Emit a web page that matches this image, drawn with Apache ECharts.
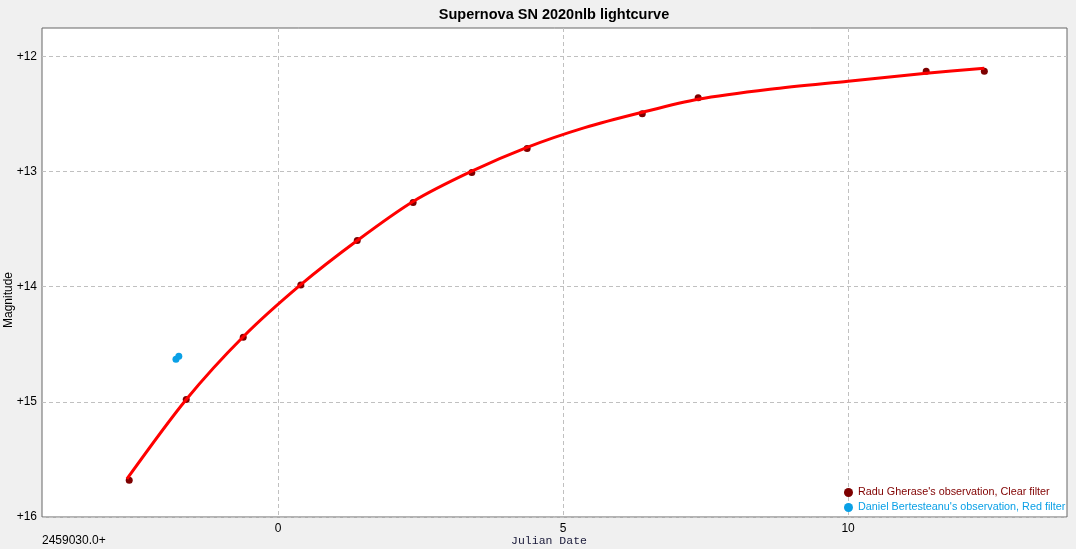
<!DOCTYPE html>
<html>
<head>
<meta charset="utf-8">
<script src="https://cdn.jsdelivr.net/npm/echarts@6/dist/echarts.min.js"></script>
<style>
html,body{margin:0;padding:0;background:#f0f0f0;}
#chart{width:1076px;height:549px;}
</style>
</head>
<body>
<div id="chart"></div>
<script>
// ---- data ----
const titleText = 'Supernova SN 2020nlb lightcurve';
const clearName = "Radu Gherase's observation, Clear filter";
const redName = "Daniel Bertesteanu's observation, Red filter";
// Clear filter observations (days after JD 2459030.0, magnitude)
const clearX = [-2.61, -1.61, -0.61, 0.40, 1.39, 2.37, 3.40, 4.37, 6.39, 7.37, 11.37, 12.39];
const clearMag = [15.68, 14.98, 14.44, 13.985, 13.60, 13.27, 13.01, 12.80, 12.50, 12.36, 12.13, 12.13];
// Red filter observations
const redX = [-1.79, -1.74];
const redMag = [14.63, 14.605];
// fitted lightcurve
const fitX = [-2.65, -1.61, -0.61, 0.40, 1.39, 2.37, 3.39, 4.37, 5.38, 6.39, 7.37, 8.63, 10.0, 11.37, 12.39];
const fitMag = [15.67, 14.98, 14.435, 13.983, 13.60, 13.261, 13.0, 12.791, 12.62, 12.487, 12.374, 12.287, 12.217, 12.148, 12.104];
// axes
const xTicks = [0, 5, 10];
const yTicks = [12, 13, 14, 15, 16];
const xRange = [-4.14, 13.84];
const yRange = [11.755, 16];
const xOrigin = '2459030.0+';
const xName = 'Julian Date';
const yName = 'Magnitude';

const zip = (a, b) => a.map((v, i) => [v, b[i]]);
const font = 'Liberation Sans, Arial, sans-serif';

const chart = echarts.init(document.getElementById('chart'));
chart.setOption({
  backgroundColor: '#f0f0f0',
  animation: false,
  grid: {left: 42, top: 28, right: 9, bottom: 32, show: true, backgroundColor: '#ffffff', borderColor: '#666666', borderWidth: 1},
  xAxis: {
    type: 'value', min: xRange[0], max: xRange[1],
    axisLine: {show: false},
    axisTick: {show: false, customValues: xTicks},
    axisLabel: {customValues: xTicks, color: '#000', fontSize: 12, fontFamily: font, margin: 6},
    splitLine: {show: true, lineStyle: {color: '#c0c0c0', type: [4, 3], width: 1}}
  },
  yAxis: {
    type: 'value', inverse: true, min: yRange[0], max: yRange[1],
    axisLine: {show: false},
    axisTick: {show: false, customValues: yTicks},
    axisLabel: {customValues: yTicks, color: '#000', fontSize: 12, fontFamily: font, margin: 5, formatter: v => '+' + v},
    splitLine: {show: true, lineStyle: {color: '#c0c0c0', type: [4, 3], width: 1}}
  },
  legend: {
    orient: 'vertical', left: 844, top: 487, padding: 0, itemGap: 4,
    itemWidth: 9, itemHeight: 9, icon: 'circle',
    textStyle: {fontSize: 10.8, fontFamily: font},
    data: [
      {name: clearName, textStyle: {color: '#800000'}},
      {name: redName, textStyle: {color: '#0aa0e6'}}
    ]
  },
  graphic: [
    {type: 'text', x: 554, y: 7, style: {text: titleText, font: 'bold 14.5px ' + font, fill: '#000', textAlign: 'center'}},
    {type: 'text', x: 42, y: 535, style: {text: xOrigin, font: '12px ' + font, fill: '#000'}},
    {type: 'text', x: 549, y: 535, style: {text: xName, font: '11.5px Liberation Mono, Courier New, monospace', fill: '#1a1a3a', textAlign: 'center'}},
    {type: 'text', x: 3, y: 300, rotation: Math.PI / 2, style: {text: yName, font: '12px ' + font, fill: '#000', textAlign: 'center', textVerticalAlign: 'top'}}
  ],
  series: [
    {name: clearName, type: 'scatter', data: zip(clearX, clearMag), symbolSize: 7, itemStyle: {color: '#7d0000', opacity: 1}, z: 2},
    {name: redName, type: 'scatter', data: zip(redX, redMag), symbolSize: 7, itemStyle: {color: '#0aa0e6', opacity: 1}, z: 2},
    {name: 'fit', type: 'line', data: zip(fitX, fitMag), smooth: 0.3, showSymbol: false, lineStyle: {color: '#ff0000', width: 3}, z: 3, silent: true}
  ]
});
</script>
</body>
</html>
